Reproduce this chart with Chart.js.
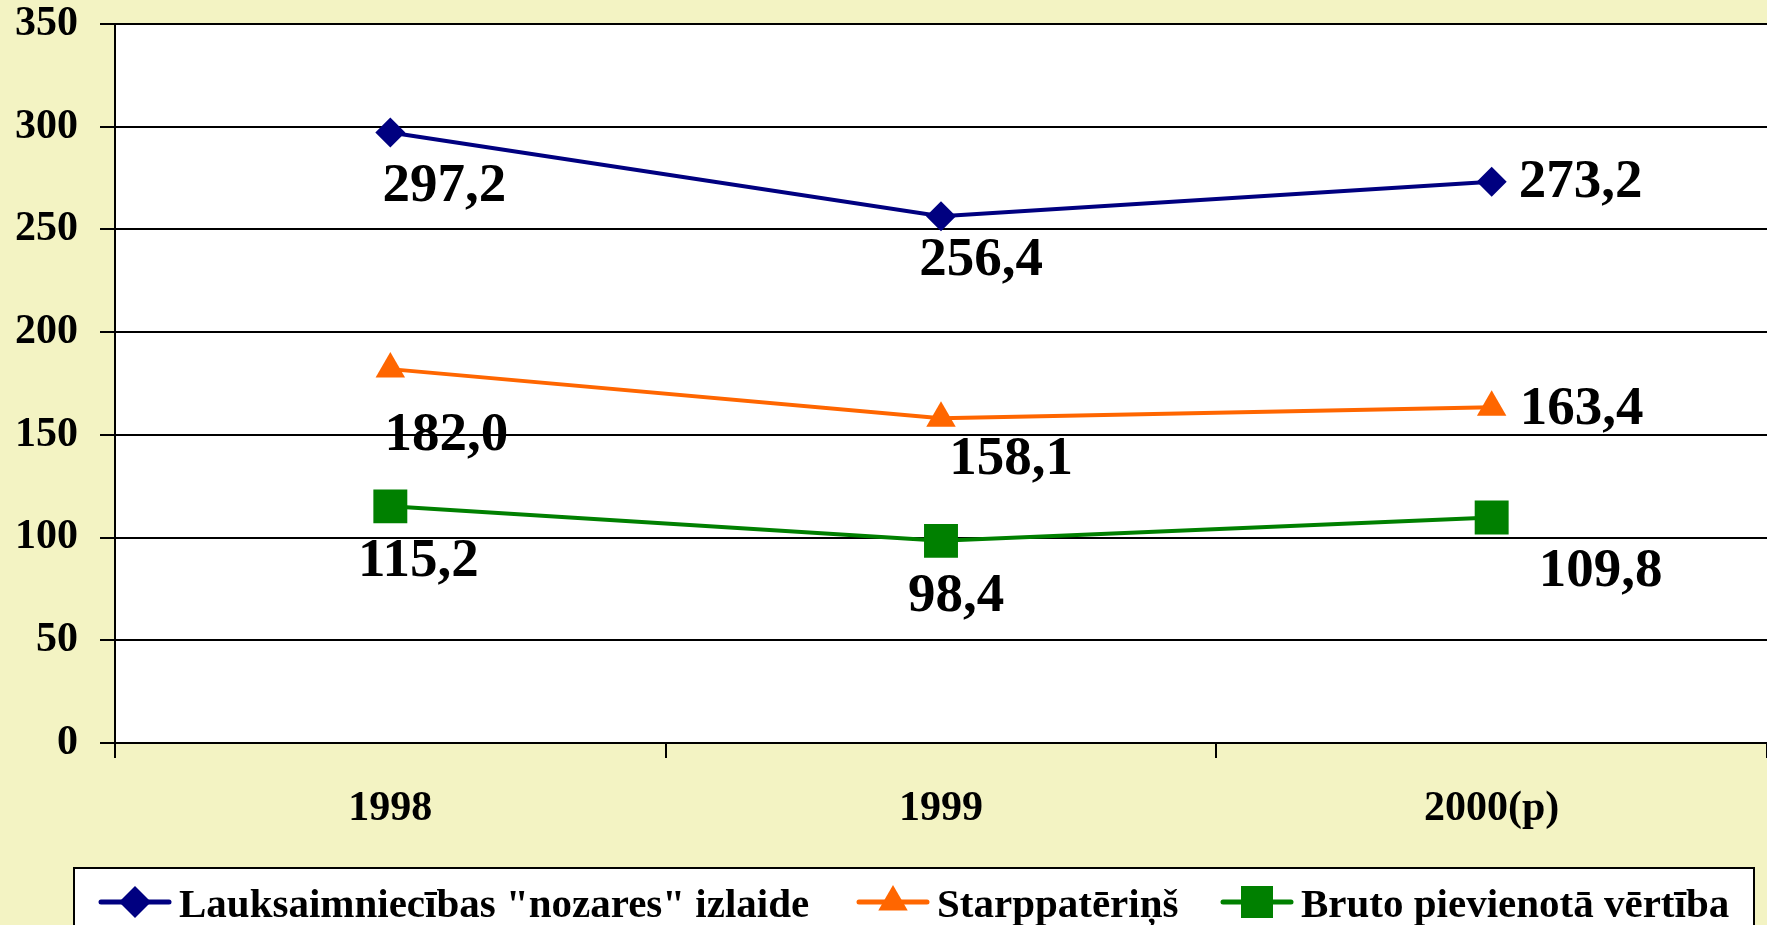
<!DOCTYPE html>
<html>
<head>
<meta charset="utf-8">
<script src="https://cdn.jsdelivr.net/npm/chart.js@4.4.0/dist/chart.umd.min.js"></script>
<style>
html, body { margin: 0; padding: 0; background: #f3f3c3; }
canvas { display: block; }
</style>
</head>
<body>
<canvas id="chart" width="1767" height="925"></canvas>
<script>
// data
const years = ['1998', '1999', '2000(p)'];
const seriesNames = ['Lauksaimniecības "nozares" izlaide', 'Starppatēriņš', 'Bruto pievienotā vērtība'];
const outputValues = [297.2, 256.4, 273.2];
const intermediateValues = [182.0, 158.1, 163.4];
const grossValues = [115.2, 98.4, 109.8];
const yTicks = [0, 50, 100, 150, 200, 250, 300, 350];

// where each value label sits relative to its point (px)
const labelOffsets = [
    [[54, 54], [40, 45], [89, 1]],
    [[56, 67], [70, 42], [90, 2]],
    [[28, 55], [15, 56], [109, 54]]
];

const serif = 'Liberation Serif';

// white plot area on the yellow page
const plotBackground = {
    id: 'plotBackground',
    beforeDraw(chart) {
        const a = chart.chartArea;
        const ctx = chart.ctx;
        ctx.save();
        ctx.fillStyle = '#ffffff';
        ctx.fillRect(a.left, a.top, a.right - a.left, a.bottom - a.top);
        ctx.restore();
    }
};

// value labels with comma decimals
const valueLabels = {
    id: 'valueLabels',
    afterDatasetsDraw(chart) {
        const ctx = chart.ctx;
        ctx.save();
        ctx.font = 'bold 55px "' + serif + '"';
        ctx.fillStyle = '#000';
        ctx.textAlign = 'center';
        ctx.textBaseline = 'middle';
        chart.data.datasets.forEach((ds, i) => {
            chart.getDatasetMeta(i).data.forEach((pt, j) => {
                const off = labelOffsets[i][j];
                ctx.fillText(ds.data[j].toFixed(1).replace('.', ','), pt.x + off[0], pt.y + off[1]);
            });
        });
        ctx.restore();
    }
};

function marker(ctx, style, x, y) {
    ctx.beginPath();
    if (style === 'rectRot') {
        const r = 16;
        ctx.moveTo(x - r, y); ctx.lineTo(x, y - r); ctx.lineTo(x + r, y); ctx.lineTo(x, y + r);
    } else if (style === 'triangle') {
        const r = 17;
        ctx.moveTo(x, y - r);
        ctx.lineTo(x + r * 0.866, y + r / 2);
        ctx.lineTo(x - r * 0.866, y + r / 2);
    } else {
        const h = 16;
        ctx.rect(x - h, y - h, 2 * h, 2 * h);
    }
    ctx.closePath();
    ctx.fill();
}

// boxed legend at the bottom, line + marker like the original
const boxLegend = {
    id: 'boxLegend',
    afterDraw(chart) {
        const ctx = chart.ctx;
        const starts = [101, 859, 1223];
        const y = 902;
        ctx.save();
        ctx.fillStyle = '#ffffff';
        ctx.fillRect(74, 868, 1680, 80);
        ctx.lineWidth = 2;
        ctx.strokeStyle = '#000';
        ctx.strokeRect(74, 868, 1680, 80);
        ctx.font = 'bold 41px "' + serif + '"';
        ctx.textBaseline = 'alphabetic';
        ctx.textAlign = 'left';
        chart.data.datasets.forEach((ds, i) => {
            const x0 = starts[i];
            ctx.strokeStyle = ds.borderColor;
            ctx.lineWidth = 5;
            ctx.lineCap = 'round';
            ctx.beginPath();
            ctx.moveTo(x0, y);
            ctx.lineTo(x0 + 68, y);
            ctx.stroke();
            ctx.fillStyle = ds.borderColor;
            marker(ctx, ds.pointStyle, x0 + 34, y);
            ctx.fillStyle = '#000';
            ctx.fillText(ds.label, x0 + 78, 917);
        });
        ctx.restore();
    }
};

const tickFont = { family: serif, size: 42, weight: 'bold' };

new Chart(document.getElementById('chart'), {
    type: 'line',
    data: {
        labels: years,
        datasets: [{
            label: seriesNames[0],
            data: outputValues,
            borderColor: '#000080',
            backgroundColor: '#000080',
            borderWidth: 4,
            pointStyle: 'rectRot',
            pointRadius: 15,
            pointHoverRadius: 15,
            pointBorderWidth: 0
        }, {
            label: seriesNames[1],
            data: intermediateValues,
            borderColor: '#ff6600',
            backgroundColor: '#ff6600',
            borderWidth: 4,
            pointStyle: 'triangle',
            pointRadius: 17,
            pointHoverRadius: 17,
            pointBorderWidth: 0
        }, {
            label: seriesNames[2],
            data: grossValues,
            borderColor: '#008000',
            backgroundColor: '#008000',
            borderWidth: 4,
            pointStyle: 'rect',
            pointRadius: 24,
            pointHoverRadius: 24,
            pointBorderWidth: 0
        }]
    },
    options: {
        responsive: false,
        animation: false,
        events: [],
        layout: { autoPadding: false, padding: { top: 24, right: 0, bottom: 72, left: 0 } },
        plugins: {
            legend: { display: false },
            tooltip: { enabled: false }
        },
        scales: {
            x: {
                offset: true,
                grid: { offset: true, drawOnChartArea: false, tickLength: 15, color: '#000', lineWidth: 2 },
                border: { color: '#000', width: 2 },
                ticks: { color: '#000', font: tickFont, padding: 26, maxRotation: 0 },
                afterFit(s) { s.height = 110; s.paddingLeft = 0; s.paddingRight = 0; }
            },
            y: {
                min: 0,
                max: 350,
                afterBuildTicks(s) { s.ticks = yTicks.map(v => ({ value: v })); },
                grid: { color: '#000', lineWidth: 2, tickLength: 15 },
                border: { color: '#000', width: 2 },
                ticks: { color: '#000', font: tickFont, padding: 22 },
                afterFit(s) { s.width = 115; s.paddingTop = 0; s.paddingBottom = 0; }
            }
        }
    },
    plugins: [plotBackground, valueLabels, boxLegend]
});
</script>
</body>
</html>
